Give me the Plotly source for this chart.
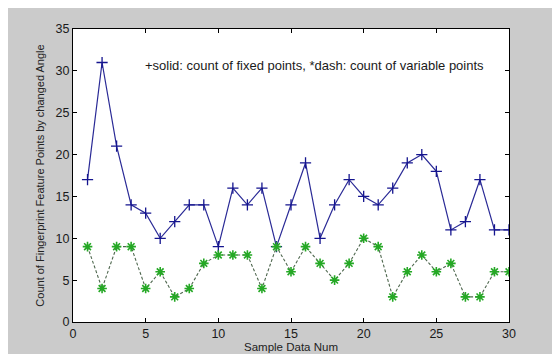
import plotly.graph_objects as go

# Sample index and the two point counts per sample
sample_num = list(range(1, 31))
fixed_points = [17, 31, 21, 14, 13, 10, 12, 14, 14, 9,
                16, 14, 16, 9, 14, 19, 10, 14, 17, 15,
                14, 16, 19, 20, 18, 11, 12, 17, 11, 11]
variable_points = [9, 4, 9, 9, 4, 6, 3, 4, 7, 8,
                   8, 8, 4, 9, 6, 9, 7, 5, 7, 10,
                   9, 3, 6, 8, 6, 7, 3, 3, 6, 6]

x_ticks = [0, 5, 10, 15, 20, 25, 30]
y_ticks = [0, 5, 10, 15, 20, 25, 30, 35]

W, H = 552, 354
L, R, T, B = 73, 43, 29, 32
pw, ph = W - L - R, H - T - B

FONT = "Liberation Sans, Arial"

fig = go.Figure()

fig.add_trace(go.Scatter(
    x=sample_num, y=fixed_points, mode="lines+markers",
    line=dict(color="#2a2a96", width=1.2),
    marker=dict(symbol="cross-thin", size=8, color="#15158f",
                line=dict(color="#15158f", width=1.3)),
    showlegend=False,
))
fig.add_trace(go.Scatter(
    x=sample_num, y=variable_points, mode="lines+markers",
    line=dict(color="#4d664d", width=1.1, dash="3px,2px"),
    marker=dict(symbol="asterisk-open", size=8, color="#25a825",
                line=dict(color="#25a825", width=1.6)),
    showlegend=False,
))

fig.add_annotation(
    x=4.83, y=30.6, xref="x", yref="y",
    text="+solid: count of fixed points, *dash: count of variable points",
    showarrow=False, xanchor="left", yanchor="middle",
    font=dict(family=FONT, size=13, color="#1a1a1a"),
)

# White strips along the top and left edges of the gray figure area
fig.add_shape(type="rect", xref="paper", yref="paper",
              x0=-L / pw - 0.01, x1=(8 - L) / pw, y0=-B / ph, y1=1 + T / ph + 0.01,
              fillcolor="white", line=dict(width=0), layer="above")
fig.add_shape(type="rect", xref="paper", yref="paper",
              x0=-L / pw - 0.01, x1=1 + R / pw + 0.01, y0=1 + (T - 8) / ph, y1=1 + T / ph + 0.01,
              fillcolor="white", line=dict(width=0), layer="above")

axis_common = dict(
    showgrid=False, zeroline=False, automargin=False,
    showline=True, linecolor="black", linewidth=1, mirror="allticks",
    ticks="inside", ticklen=4, tickcolor="black", tickwidth=1,
    tickfont=dict(family=FONT, size=12.5, color="#1a1a1a"),
)

fig.update_xaxes(
    range=[0, 30], tickvals=x_ticks,
    title=dict(text="Sample Data Num", standoff=2,
               font=dict(family=FONT, size=11.5, color="#222")),
    **axis_common,
)
fig.update_yaxes(
    range=[0, 35], tickvals=y_ticks,
    title=dict(text="Count of Fingerprint Feature Points by changed Angle", standoff=8,
               font=dict(family=FONT, size=11, color="#222")),
    **axis_common,
)

fig.update_layout(
    width=W, height=H,
    margin=dict(l=L, r=R, t=T, b=B),
    paper_bgcolor="#cbcbcb", plot_bgcolor="white",
)

fig.write_html("out.html")
